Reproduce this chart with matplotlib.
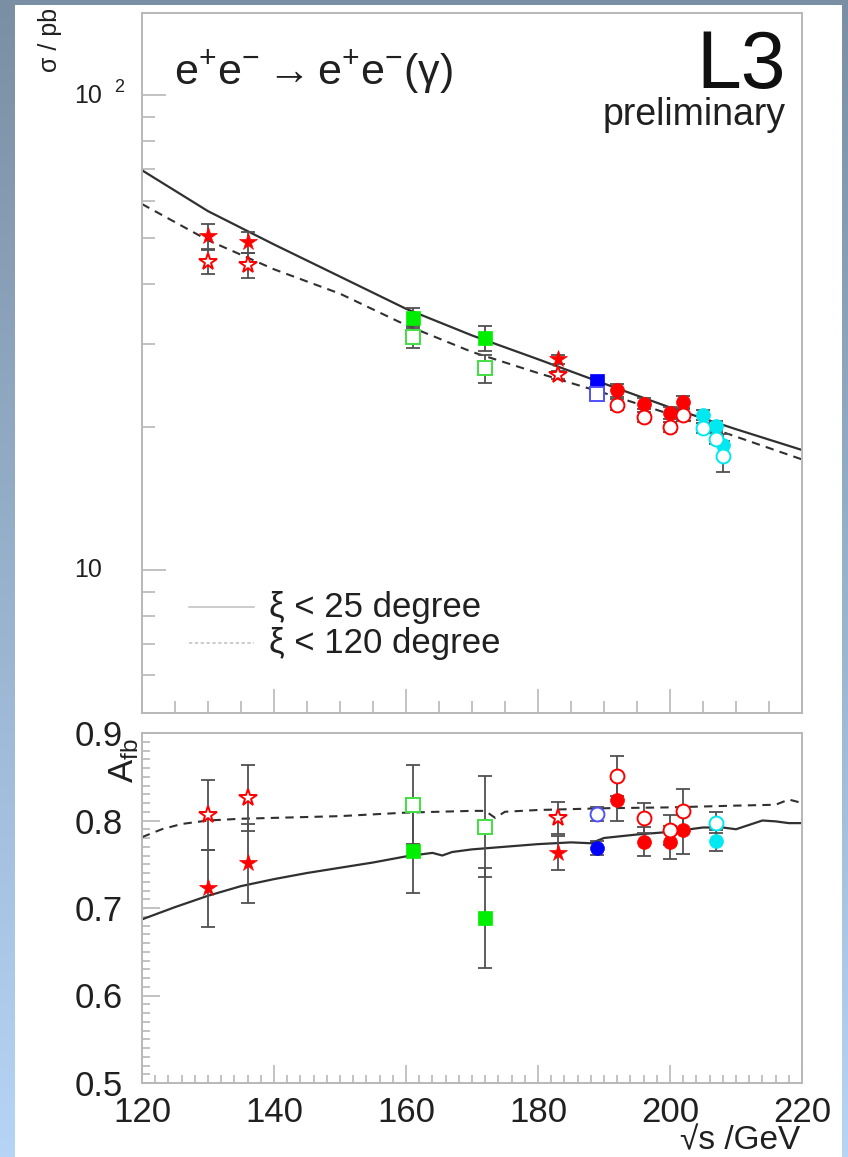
import numpy as np
import matplotlib
matplotlib.use("Agg")
import matplotlib.pyplot as plt
from matplotlib import font_manager
from matplotlib.lines import Line2D
from matplotlib.patches import Rectangle
from matplotlib.ticker import FixedLocator, MultipleLocator, NullFormatter

# ---------------------------------------------------------------- data
# total cross section (pb), filled = xi < 25 deg, open = xi < 120 deg
star_s = [130, 136, 183]
star_sig25 = [50.5, 49.1, 27.8]
star_sig25_err = [3.0, 2.5, 0.6]
star_sig120 = [44.6, 43.9, 25.8]
star_sig120_err = [2.5, 2.6, 0.5]

green_s = [161, 172]
green_sig25 = [34.0, 30.8]
green_sig25_err = [1.6, 1.9]
green_sig120 = [31.0, 26.6]
green_sig120_err = [1.7, 1.8]

blue_s = [189]
blue_sig25 = [25.0]
blue_sig25_err = [0.4]
blue_sig120 = [23.5]
blue_sig120_err = [0.4]

red_s = [192, 196, 200, 202]
red_sig25 = [23.9, 22.4, 21.4, 22.6]
red_sig25_err = [0.7, 0.6, 0.6, 0.7]
red_sig120 = [22.3, 21.0, 20.0, 21.2]
red_sig120_err = [0.6, 0.5, 0.5, 0.6]

cyan_s = [205, 207, 208]
cyan_sig25 = [21.2, 20.1, 18.3]
cyan_sig25_err = [0.5, 0.5, 1.0]
cyan_sig120 = [19.9, 18.9, 17.4]
cyan_sig120_err = [0.5, 0.5, 1.3]

# theory curves for the cross section
curve_s = [120, 130, 140, 150, 160, 170, 180, 190, 200, 210, 220]
curve_sig25 = [69.5, 57.0, 48.5, 41.5, 35.5, 31.2, 27.8, 24.7, 22.0, 19.8, 17.9]
curve_sig120 = [59.0, 49.5, 43.0, 38.2, 32.8, 28.8, 26.0, 23.6, 21.3, 19.1, 17.1]

# forward-backward asymmetry
star_afb25 = [0.7225, 0.751, 0.763]
star_afb25_err = [0.044, 0.045, 0.019]
star_afb120 = [0.806, 0.826, 0.803]
star_afb120_err = [0.040, 0.038, 0.018]

green_afb25 = [0.765, 0.689]
green_afb25_err = [0.048, 0.057]
green_afb120 = [0.818, 0.793]
green_afb120_err = [0.045, 0.058]

blue_afb25 = [0.769]
blue_afb25_err = [0.008]
blue_afb120 = [0.807]
blue_afb120_err = [0.008]

red_afb25 = [0.823, 0.776, 0.775, 0.789]
red_afb25_err = [0.024, 0.017, 0.019, 0.027]
red_afb120 = [0.851, 0.8025, 0.789, 0.811]
red_afb120_err = [0.023, 0.017, 0.017, 0.025]

cyan_afb_s = [207]
cyan_afb25 = [0.7766]
cyan_afb25_err = [0.012]
cyan_afb120 = [0.7975]
cyan_afb120_err = [0.012]

afb_curve25_s = [120, 125, 130, 135, 140, 145, 150, 155, 160, 164, 165.5, 167,
                 170, 175, 180, 185, 188, 190, 195, 200, 205, 208, 210, 212,
                 214, 216, 218, 220]
afb_curve25 = [0.687, 0.701, 0.714, 0.725, 0.733, 0.740, 0.746, 0.752, 0.759,
               0.763, 0.760, 0.764, 0.767, 0.770, 0.773, 0.775, 0.774, 0.780,
               0.784, 0.787, 0.792, 0.792, 0.790, 0.795, 0.800, 0.799, 0.797,
               0.797]
afb_curve120_s = [120, 123, 126, 130, 135, 140, 150, 160, 170, 172, 173.5, 175,
                  180, 190, 200, 210, 216, 218, 220]
afb_curve120 = [0.781, 0.790, 0.796, 0.800, 0.802, 0.803, 0.805, 0.809, 0.811,
                0.811, 0.803, 0.810, 0.812, 0.814, 0.815, 0.817, 0.818, 0.824,
                0.820]

x_ticks = [120, 140, 160, 180, 200, 220]
afb_ticks = [0.5, 0.6, 0.7, 0.8, 0.9]

# ---------------------------------------------------------------- style
names = {f.name for f in font_manager.fontManager.ttflist}
FONT = "Liberation Sans Narrow" if "Liberation Sans Narrow" in names else "Liberation Sans"
plt.rcParams["font.family"] = [FONT, "DejaVu Sans"]
plt.rcParams["mathtext.fontset"] = "custom"
plt.rcParams["mathtext.rm"] = FONT
plt.rcParams["mathtext.it"] = FONT

W, H = 848, 1157
fig = plt.figure(figsize=(W / 100, H / 100), dpi=100)


def fx(x):
    return x / W


def fy(y):
    return 1 - y / H


# slide background: vertical gradient with a white sheet on top
bg = fig.add_axes([0, 0, 1, 1], zorder=-10)
grad = np.linspace(0, 1, 256)[:, None]
top_c = np.array([122, 143, 163]) / 255
bot_c = np.array([182, 212, 246]) / 255
img = top_c[None, None, :] * (1 - grad[:, :, None]) + bot_c[None, None, :] * grad[:, :, None]
bg.imshow(img, aspect="auto", extent=[0, W, H, 0])
bg.add_patch(Rectangle((15, 5), 827, H, facecolor="white", edgecolor="none"))
bg.set_xlim(0, W)
bg.set_ylim(H, 0)
bg.axis("off")

FRAME = "#b8b8b8"
ERR = "#505050"
TXT = "#202020"


def style_axes(ax):
    for sp in ax.spines.values():
        sp.set_color(FRAME)
        sp.set_linewidth(1.4)
    ax.set_facecolor("none")
    ax.tick_params(which="both", direction="in", color=FRAME, width=1.2,
                   top=False, right=False)


def draw_set(ax, s, v, e, color, marker, ms, open_marker=False, edge=None):
    ax.errorbar(s, v, yerr=e, fmt="none", ecolor=ERR, elinewidth=1.3,
                capsize=5, capthick=1.3, zorder=3)
    if open_marker:
        ax.plot(s, v, linestyle="none", marker=marker, ms=ms,
                mfc="white", mec=edge or color, mew=1.4, zorder=4)
    else:
        ax.plot(s, v, linestyle="none", marker=marker, ms=ms,
                mfc=color, mec=color, mew=0.5, zorder=4)


RED = "#ff0000"
GREEN = "#00ee00"
GREEN_OPEN = "#40e040"
BLUE = "#0000ff"
BLUE_OPEN = "#5050ff"
CYAN = "#00e8f0"

# ---------------------------------------------------------------- top: cross section
ax1 = fig.add_axes([fx(142), fy(713), fx(802) - fx(142), fy(13) - fy(713)])
style_axes(ax1)
ax1.set_yscale("log")
ax1.set_xlim(120, 220)
ax1.set_ylim(5.0, 149.0)

ax1.plot(curve_s, curve_sig25, color="#303030", lw=1.6, zorder=2)
ax1.plot(curve_s, curve_sig120, color="#303030", lw=1.5, ls=(0, (4, 3)), zorder=2)

draw_set(ax1, star_s, star_sig25, star_sig25_err, RED, "*", 13)
draw_set(ax1, star_s, star_sig120, star_sig120_err, RED, "*", 13, open_marker=True)
draw_set(ax1, green_s, green_sig25, green_sig25_err, GREEN, "s", 10)
draw_set(ax1, green_s, green_sig120, green_sig120_err, GREEN, "s", 10, True, GREEN_OPEN)
draw_set(ax1, blue_s, blue_sig25, blue_sig25_err, BLUE, "s", 10)
draw_set(ax1, blue_s, blue_sig120, blue_sig120_err, BLUE, "s", 10, True, BLUE_OPEN)
draw_set(ax1, red_s, red_sig25, red_sig25_err, RED, "o", 10)
draw_set(ax1, red_s, red_sig120, red_sig120_err, RED, "o", 10, True)
draw_set(ax1, cyan_s, cyan_sig25, cyan_sig25_err, CYAN, "o", 10)
draw_set(ax1, cyan_s, cyan_sig120, cyan_sig120_err, CYAN, "o", 10, True)

ax1.xaxis.set_major_locator(FixedLocator(x_ticks))
ax1.xaxis.set_minor_locator(MultipleLocator(5))
ax1.xaxis.set_major_formatter(NullFormatter())
ax1.yaxis.set_major_locator(FixedLocator([10, 100]))
ax1.yaxis.set_minor_locator(FixedLocator([6, 7, 8, 9, 20, 30, 40, 50, 60, 70, 80, 90]))
ax1.yaxis.set_major_formatter(NullFormatter())
ax1.yaxis.set_minor_formatter(NullFormatter())
ax1.tick_params(which="major", length=17)
ax1.tick_params(which="minor", length=9)

# decade labels in the ROOT style "10 2"
fig.text(fx(102), fy(96), "10", ha="right", va="center", fontsize=18, color=TXT)
fig.text(fx(114), fy(88), "2", ha="left", va="center", fontsize=13, color=TXT)
fig.text(fx(102), fy(570), "10", ha="right", va="center", fontsize=18, color=TXT)

# legend
leg_x0, leg_x1 = 0.071, 0.17
ax1.add_line(Line2D([leg_x0, leg_x1], [0.151, 0.151], transform=ax1.transAxes,
                    color="#c4c4c4", lw=1.2))
ax1.add_line(Line2D([leg_x0, leg_x1], [0.100, 0.100], transform=ax1.transAxes,
                    color="#c4c4c4", lw=1.2, ls=(0, (2, 1.5))))
ax1.text(0.193, 0.151, "ξ < 25 degree", transform=ax1.transAxes, ha="left",
         va="center", fontsize=25, color=TXT)
ax1.text(0.193, 0.100, "ξ < 120 degree", transform=ax1.transAxes, ha="left",
         va="center", fontsize=25, color=TXT)

# ---------------------------------------------------------------- bottom: asymmetry
ax2 = fig.add_axes([fx(142), fy(1083), fx(802) - fx(142), fy(733) - fy(1083)])
style_axes(ax2)
ax2.set_xlim(120, 220)
ax2.set_ylim(0.5, 0.9)

ax2.plot(afb_curve25_s, afb_curve25, color="#303030", lw=1.6, zorder=2)
ax2.plot(afb_curve120_s, afb_curve120, color="#303030", lw=1.5, ls=(0, (4, 3)), zorder=2)

draw_set(ax2, star_s, star_afb25, star_afb25_err, RED, "*", 13)
draw_set(ax2, star_s, star_afb120, star_afb120_err, RED, "*", 13, open_marker=True)
draw_set(ax2, green_s, green_afb25, green_afb25_err, GREEN, "s", 10)
draw_set(ax2, green_s, green_afb120, green_afb120_err, GREEN, "s", 10, True, GREEN_OPEN)
draw_set(ax2, blue_s, blue_afb25, blue_afb25_err, BLUE, "o", 10)
draw_set(ax2, blue_s, blue_afb120, blue_afb120_err, BLUE, "o", 10, True, BLUE_OPEN)
draw_set(ax2, red_s, red_afb25, red_afb25_err, RED, "o", 10)
draw_set(ax2, red_s, red_afb120, red_afb120_err, RED, "o", 10, True)
draw_set(ax2, cyan_afb_s, cyan_afb25, cyan_afb25_err, CYAN, "o", 10)
draw_set(ax2, cyan_afb_s, cyan_afb120, cyan_afb120_err, CYAN, "o", 10, True)

ax2.xaxis.set_major_locator(FixedLocator(x_ticks))
ax2.xaxis.set_minor_locator(MultipleLocator(2))
ax2.yaxis.set_major_locator(FixedLocator(afb_ticks))
ax2.yaxis.set_minor_locator(MultipleLocator(0.01))
ax2.set_xticklabels([str(t) for t in x_ticks])
ax2.set_yticklabels([f"{t:.1f}" for t in afb_ticks])
ax2.tick_params(which="major", length=13, labelsize=25, labelcolor=TXT)
ax2.tick_params(which="minor", length=6)
ax2.tick_params(axis="x", which="major", pad=9)
ax2.tick_params(axis="y", which="major", pad=14)

# ---------------------------------------------------------------- titles and labels
fig.text(fx(174), fy(84), r"$\mathregular{e^{+}e^{-}\rightarrow e^{+}e^{-}(\gamma)}$",
         ha="left", va="baseline", fontsize=31, color=TXT)
fig.text(fx(786), fy(88), "L3", ha="right", va="baseline", fontsize=58, color="#101010")
fig.text(fx(786), fy(125), "preliminary", ha="right", va="baseline", fontsize=27,
         color=TXT)
fig.text(fx(50), fy(8), "σ / pb", rotation=90, ha="center", va="top",
         fontsize=18, color=TXT)
fig.text(fx(124), fy(738), r"$\mathregular{A_{fb}}$", rotation=90, ha="center",
         va="top", fontsize=25, color=TXT)
fig.text(fx(800), fy(1149), "√s /GeV", ha="right", va="baseline", fontsize=24,
         color=TXT)

fig.savefig("out.png", dpi=100)
